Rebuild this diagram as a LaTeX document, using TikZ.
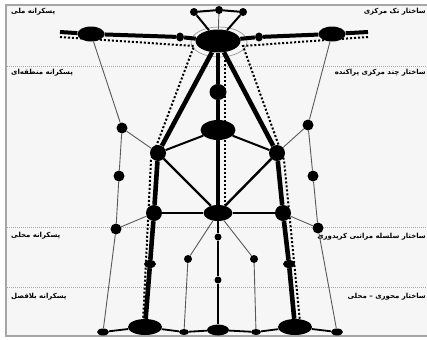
\documentclass[tikz,border=0pt]{standalone}
\usepackage{fontspec}
\usetikzlibrary{shapes.geometric}
\newfontfamily\fa[Script=Arabic]{DejaVu Sans}
\TeXXeTstate=1
\begin{document}
\begin{tikzpicture}[x=1bp,y=-1bp,
 blob/.style={ellipse,fill=black,draw=none,inner sep=0pt},
 thinln/.style={draw=gray!70!black, line width=0.9bp},
 legln/.style={line width=4.6bp},
 armln/.style={line width=4bp},
 midln/.style={line width=2.4bp},
 dotln/.style={line width=2bp, dash pattern=on 2bp off 2bp},
 guide/.style={gray!70, line width=0.8bp, dash pattern=on 1bp off 1bp},
 lab/.style={font=\fa\bfseries\fontsize{7}{8}\selectfont, inner sep=0pt}]
\useasboundingbox (0,0) rectangle (427,340);
% frame
\fill[gray!7] (6,5) rectangle (427,336);
\draw[gray!70, line width=1.2bp] (427,5) -- (6,5) -- (6,336) -- (427,336);
% guide lines
\draw[guide] (7,66) -- (427,66);
\draw[guide] (7,227) -- (427,227);
\draw[guide] (7,287) -- (427,287);
% labels
\node[lab,anchor=west] (l1) at (11,12) {\beginR پسکرانه ملی\endR};
\node[lab,anchor=west] (l2) at (11,73) {\beginR پسکرانه منطقه‌ای\endR};
\node[lab,anchor=west] (l3) at (11,236) {\beginR پسکرانه محلی\endR};
\node[lab,anchor=west] (l4) at (11,297) {\beginR پسکرانه بلافصل\endR};
\node[lab,anchor=east] (r1) at (426,12) {\beginR ساختار تک مرکزی\endR};
\node[lab,anchor=east] (r2) at (426,73) {\beginR ساختار چند مرکزی پراکنده\endR};
\node[lab,anchor=east] (r3) at (426,237) {\beginR ساختار سلسله مراتبی کریدوری\endR};
\node[lab,anchor=east] (r4) at (426,297) {\beginR ساختار محوری – محلی\endR};
% ring behind hub
\draw[gray!80, line width=0.7bp] (219,42) ellipse [x radius=28, y radius=15];
% nodes
\node[blob,minimum width=45bp,minimum height=23bp] (hub) at (218,41) {};
\node[blob,minimum width=8bp,minimum height=8bp] (t1) at (194,12) {};
\node[blob,minimum width=8bp,minimum height=8bp] (t2) at (219,10) {};
\node[blob,minimum width=8bp,minimum height=8bp] (t3) at (243,12) {};
\coordinate (la) at (60,32);
\coordinate (ra) at (368,32);
\node[blob,minimum width=27bp,minimum height=15bp] (L) at (91,34) {};
\node[blob,minimum width=27bp,minimum height=15bp] (R) at (332,34) {};
\node[blob,minimum width=8bp,minimum height=9bp] (a1) at (180,37) {};
\node[blob,minimum width=8bp,minimum height=9bp] (a2) at (259,37) {};
\node[blob,minimum width=17bp,minimum height=16bp] (C1) at (218,92) {};
\node[blob,minimum width=35bp,minimum height=20bp] (C2) at (218,130) {};
\node[blob,minimum width=29bp,minimum height=16bp] (C3) at (218,213) {};
\node[blob,minimum width=7bp,minimum height=7bp] (C4) at (218,237) {};
\node[blob,minimum width=7bp,minimum height=7bp] (C5) at (218,280) {};
\node[blob,minimum width=22bp,minimum height=11bp] (C6) at (218,330) {};
\node[blob,minimum width=16bp,minimum height=16bp] (LA) at (158,153) {};
\node[blob,minimum width=16bp,minimum height=16bp] (LB) at (154,213) {};
\node[blob,minimum width=12bp,minimum height=8bp] (LC) at (150,264) {};
\node[blob,minimum width=34bp,minimum height=16bp] (LD) at (145,327) {};
\node[blob,minimum width=16bp,minimum height=16bp] (RA) at (277,153) {};
\node[blob,minimum width=16bp,minimum height=16bp] (RB) at (283,213) {};
\node[blob,minimum width=12bp,minimum height=8bp] (RC) at (289,264) {};
\node[blob,minimum width=34bp,minimum height=16bp] (RD) at (295,327) {};
\node[blob,minimum width=11bp,minimum height=11bp] (O1) at (122,128) {};
\node[blob,minimum width=11bp,minimum height=11bp] (O2) at (119,176) {};
\node[blob,minimum width=11bp,minimum height=11bp] (O3) at (116,229) {};
\node[blob,minimum width=12bp,minimum height=7bp] (OB) at (103,332) {};
\node[blob,minimum width=11bp,minimum height=11bp] (P1) at (308,125) {};
\node[blob,minimum width=11bp,minimum height=11bp] (P2) at (313,176) {};
\node[blob,minimum width=11bp,minimum height=11bp] (P3) at (318,228) {};
\node[blob,minimum width=12bp,minimum height=7bp] (PB) at (337,332) {};
\node[blob,minimum width=8bp,minimum height=8bp] (Q1) at (188,259) {};
\node[blob,minimum width=10bp,minimum height=6bp] (QB) at (184,332) {};
\node[blob,minimum width=8bp,minimum height=8bp] (S1) at (254,259) {};
\node[blob,minimum width=10bp,minimum height=6bp] (SB) at (256,332) {};
% thin grey connectors
\draw[thinln] (L) -- (O1) -- (O2) -- (O3) -- (OB);
\draw[thinln] (O1) -- (LA);
\draw[thinln] (O3) -- (LB);
\draw[thinln] (R) -- (P1) -- (P2) -- (P3) -- (PB);
\draw[thinln] (P1) -- (RA);
\draw[thinln] (P3) -- (RB);
\draw[thinln] (C3) -- (Q1) -- (QB);
\draw[thinln] (C3) -- (S1) -- (SB);
\draw[thinln] (t2) -- (hub);
% base line
\draw[line width=1.8bp] (OB) -- (LD) -- (QB) -- (C6) -- (SB) -- (RD) -- (PB);
% dotted lines
\coordinate (d1) at (60,37);
\coordinate (d2) at (194,46);
\coordinate (d3) at (151,160);
\coordinate (d4) at (143,322);
\coordinate (e1) at (368,37);
\coordinate (e2) at (243,46);
\coordinate (e3) at (284,160);
\coordinate (e4) at (300,322);
\coordinate (f1) at (225,56);
\coordinate (f2) at (225,205);
\draw[dotln] (d1) -- (d2) -- (d3) -- (d4);
\draw[dotln] (e1) -- (e2) -- (e3) -- (e4);
\draw[dotln] (f1) -- (f2);
% top
\draw[line width=2bp] (t1) -- (t2) -- (t3);
\draw[line width=2bp] (t1) -- (hub.130);
\draw[line width=2bp] (t3) -- (hub.50);
% arms
\draw[armln] (la) -- (L) -- (a1) -- (hub) -- (a2) -- (R) -- (ra);
% legs
\draw[legln] (hub) -- (LA) -- (LB) -- (LC) -- (LD);
\draw[legln] (hub) -- (RA) -- (RB) -- (RC) -- (RD);
% centre
\draw[legln] (hub) -- (C1) -- (C2) -- (C3);
\draw[midln] (C3) -- (C4) -- (C5) -- (C6);
% cross
\draw[line width=2bp] (LA) -- (C2) -- (RA);
\draw[line width=2.4bp] (LA) -- (C3) -- (RA);
\draw[line width=2.4bp] (LB) -- (C3) -- (RB);
\end{tikzpicture}
\end{document}
